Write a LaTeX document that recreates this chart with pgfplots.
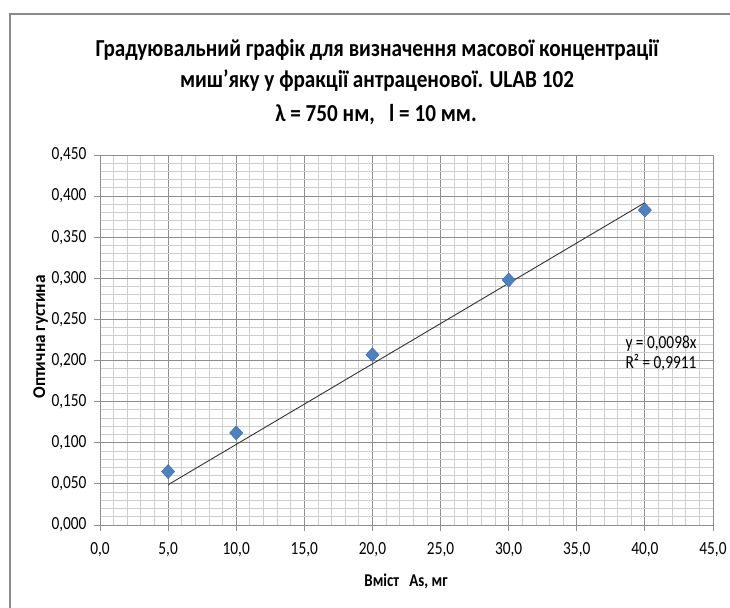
\documentclass[border=0pt]{standalone}
\usepackage{fontspec}
\usepackage{pgfplots}
\pgfplotsset{compat=1.18}
\setmainfont{Carlito}
\newfontfamily\tf[FakeStretch=0.83]{Carlito}
\newfontfamily\yl[FakeStretch=0.96]{Carlito}
\newfontfamily\ttl[FakeStretch=0.868]{Carlito}
\definecolor{exblue}{HTML}{4F81BD}
\definecolor{exblueedge}{HTML}{3F6FA8}
\definecolor{majg}{HTML}{8E8E8E}
\definecolor{ming}{HTML}{CDCDCD}
\definecolor{frameg}{HTML}{8A8A8A}
\pgfplotstableread{
x y
5 0.065
10 0.112
20 0.207
30 0.298
40 0.383
}\datatable
\pgfplotstableread{
x y
5 0.049
40 0.392
}\trendtable
\begin{document}
\begin{tikzpicture}[x=1pt,y=1pt]
\useasboundingbox (0,0) rectangle (730,607);
\draw[color=frameg, line width=1.6pt] (10,-2) -- (10,593) -- (732,593);
\begin{axis}[
  at={(100pt,82pt)}, anchor=south west,
  scale only axis, width=613pt, height=370pt,
  xmin=0, xmax=45, ymin=0, ymax=0.45,
  xtick={0,5,...,45}, ytick={0,0.05,...,0.45},
  minor x tick num=4, minor y tick num=4,
  grid=both,
  major grid style={majg, line width=0.8pt},
  minor grid style={ming, line width=0.8pt},
  axis line style={majg, line width=0.8pt},
  tick pos=left, tick align=outside,
  major tick length=6pt, minor tick length=0pt,
  tick style={majg, line width=0.8pt},
  /pgf/number format/.cd, use comma, fixed, fixed zerofill, assume math mode=true,
  /pgfplots/.cd,
  xticklabel style={font=\tf\fontsize{18.5}{20}\selectfont, yshift=-8pt, /pgf/number format/precision=1},
  yticklabel style={font=\tf\fontsize{18.5}{20}\selectfont, xshift=-4pt, /pgf/number format/precision=3},
  clip=false,
]
\addplot[color=black!80, line width=0.9pt] table[x=x,y=y] {\trendtable};
\addplot[only marks, mark=diamond*, mark size=7pt,
  mark options={fill=exblue, draw=exblueedge, line width=0.5pt, xscale=1.25}]
  table[x=x,y=y] {\datatable};
\end{axis}
\node[anchor=base, font=\ttl\bfseries\fontsize{24.4}{28}\selectfont] at (377,550) {Градуювальний графік для визначення масової концентрації};
\node[anchor=base, font=\ttl\bfseries\fontsize{24.4}{28}\selectfont] at (377,519) {миш’яку у фракції антраценової. ULAB 102};
\node[anchor=base, font=\ttl\bfseries\fontsize{24.4}{28}\selectfont] at (376,485) {λ = 750 нм,\ \ \ l = 10 мм.};
\node[anchor=base, font=\tf\bfseries\fontsize{18}{20}\selectfont] at (406,20) {Вміст\ \ \ As, мг};
\node[anchor=base, rotate=90, font=\yl\bfseries\fontsize{18}{20}\selectfont] at (45,270) {Оптична густина};
\node[anchor=base west, font=\tf\fontsize{18.5}{20}\selectfont] at (622,258) {y = 0,0098x};
\node[anchor=base west, font=\tf\fontsize{18.5}{20}\selectfont] at (622,238) {R² = 0,9911};
\end{tikzpicture}
\end{document}
